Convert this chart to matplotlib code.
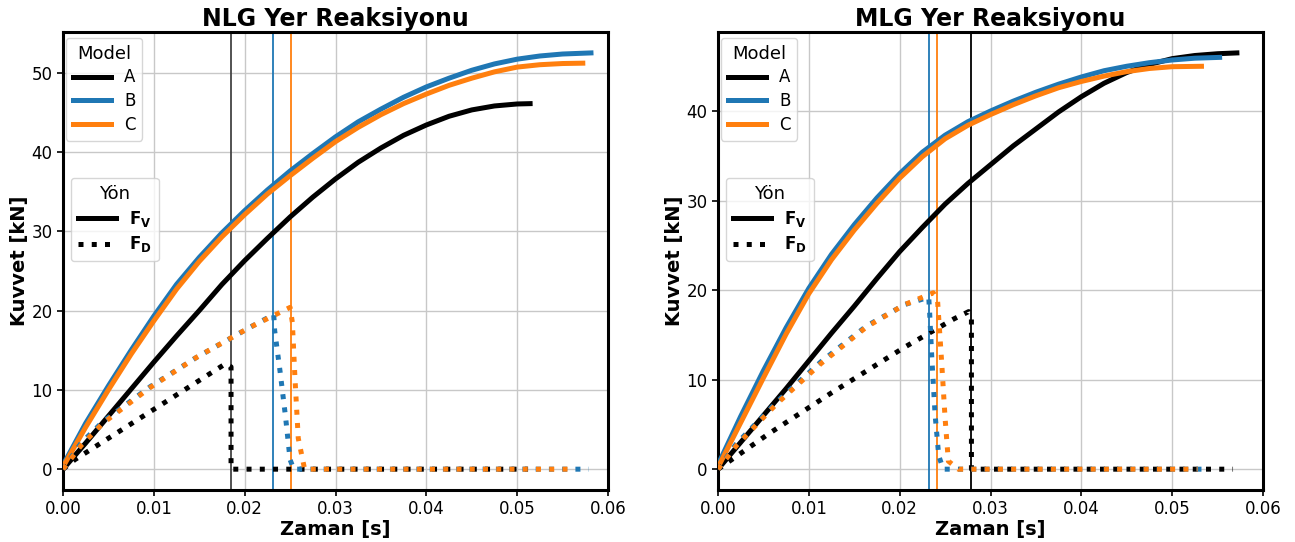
import matplotlib
matplotlib.use("Agg")
import matplotlib.pyplot as plt
from matplotlib.lines import Line2D
from matplotlib.ticker import FormatStrFormatter, MultipleLocator

C_A = "black"
C_B = "#1f77b4"
C_C = "#ff7f0e"

# ---------------- NLG (left) ----------------
nlg_t_A = [0, 0.0025, 0.005, 0.0075, 0.01, 0.0125, 0.015, 0.0175, 0.02, 0.0225, 0.025, 0.0275, 0.03,
           0.0325, 0.035, 0.0375, 0.04, 0.0425, 0.045, 0.0475, 0.05, 0.0517]
nlg_fv_A = [0, 3.3, 6.7, 10.1, 13.5, 16.8, 20.0, 23.3, 26.3, 29.1, 31.8, 34.3, 36.6,
            38.7, 40.5, 42.1, 43.4, 44.5, 45.3, 45.8, 46.05, 46.1]
nlg_t_B = [0, 0.0025, 0.005, 0.0075, 0.01, 0.0125, 0.015, 0.0175, 0.02, 0.0225, 0.025, 0.0275, 0.03,
           0.0325, 0.035, 0.0375, 0.04, 0.0425, 0.045, 0.0475, 0.05, 0.0525, 0.055, 0.0584]
nlg_fv_B = [0.5, 5.8, 10.5, 15.0, 19.3, 23.3, 26.7, 29.8, 32.6, 35.2, 37.6, 39.8, 41.9,
            43.8, 45.4, 46.9, 48.2, 49.3, 50.3, 51.1, 51.7, 52.1, 52.35, 52.5]
nlg_t_C = [0, 0.0025, 0.005, 0.0075, 0.01, 0.0125, 0.015, 0.0175, 0.02, 0.0225, 0.025, 0.0275, 0.03,
           0.0325, 0.035, 0.0375, 0.04, 0.0425, 0.045, 0.0475, 0.05, 0.0525, 0.055, 0.0575]
nlg_fv_C = [0.3, 5.3, 10.0, 14.5, 18.7, 22.7, 26.2, 29.3, 32.1, 34.7, 37.0, 39.2, 41.3,
            43.1, 44.7, 46.1, 47.3, 48.4, 49.3, 50.1, 50.7, 51.0, 51.15, 51.2]

nlg_td_A = [0, 0.0013, 0.0179, 0.0185, 0.0185, 0.0512]
nlg_fd_A = [0, 1.2, 13.3, 12.9, 0, 0]
nlg_td_B = [0, 0.002, 0.0044, 0.0096, 0.0147, 0.0206, 0.0232, 0.0233, 0.0239, 0.0245, 0.025, 0.0254, 0.0579]
nlg_fd_B = [0, 3.3, 6.0, 10.4, 14.1, 17.9, 19.5, 17.5, 12.3, 6.6, 1.2, 0, 0]
nlg_td_C = [0, 0.002, 0.0044, 0.0096, 0.0147, 0.0206, 0.025, 0.02525, 0.02554, 0.0259, 0.0266, 0.0564]
nlg_fd_C = [0, 3.0, 5.8, 10.3, 14.1, 17.9, 20.4, 18.5, 11.4, 3.9, 0, 0]

nlg_vlines = [0.0185, 0.0231, 0.0251]

# ---------------- MLG (right) ----------------
mlg_t_A = [0, 0.0025, 0.005, 0.0075, 0.01, 0.0125, 0.015, 0.0175, 0.02, 0.0225, 0.025, 0.0275, 0.03,
           0.0325, 0.035, 0.0375, 0.04, 0.0425, 0.045, 0.0475, 0.05, 0.0525, 0.055, 0.0574]
mlg_fv_A = [0, 3.0, 6.0, 9.0, 12.1, 15.2, 18.2, 21.3, 24.3, 27.0, 29.6, 31.9, 34.0,
            36.1, 38.0, 39.9, 41.6, 43.1, 44.3, 45.2, 45.85, 46.2, 46.4, 46.5]
mlg_t_B = [0, 0.0025, 0.005, 0.0075, 0.01, 0.0125, 0.015, 0.0175, 0.02, 0.0225, 0.025, 0.0275, 0.03,
           0.0325, 0.035, 0.0375, 0.04, 0.0425, 0.045, 0.0475, 0.05, 0.0525, 0.0555]
mlg_fv_B = [0.5, 5.9, 11.0, 15.8, 20.2, 24.0, 27.3, 30.3, 33.0, 35.4, 37.3, 38.8, 40.0,
            41.1, 42.1, 43.0, 43.8, 44.5, 45.0, 45.4, 45.7, 45.9, 46.0]
mlg_t_C = [0, 0.0025, 0.005, 0.0075, 0.01, 0.0125, 0.015, 0.0175, 0.02, 0.0225, 0.025, 0.0275, 0.03,
           0.0325, 0.035, 0.0375, 0.04, 0.0425, 0.045, 0.0475, 0.05, 0.0535]
mlg_fv_C = [0.2, 5.2, 10.2, 15.1, 19.6, 23.4, 26.7, 29.7, 32.5, 34.9, 36.9, 38.4, 39.6,
            40.7, 41.7, 42.6, 43.3, 43.9, 44.4, 44.75, 44.95, 45.0]

mlg_td_A = [0, 0.0055, 0.0123, 0.0205, 0.026, 0.0276, 0.0279, 0.0279, 0.0567]
mlg_fd_A = [0, 3.9, 8.4, 13.6, 16.8, 17.6, 16.8, 0, 0]
mlg_td_B = [0, 0.002, 0.00646, 0.01134, 0.01637, 0.02059, 0.0232, 0.0233, 0.02353, 0.0239, 0.0243, 0.0248, 0.0538]
mlg_fd_B = [0, 2.8, 7.5, 12.0, 16.0, 18.4, 19.2, 17.5, 12.6, 6.1, 1.5, 0, 0]
mlg_td_C = [0, 0.002, 0.00646, 0.01134, 0.01637, 0.02059, 0.0237, 0.02418, 0.02462, 0.025, 0.02536, 0.02646, 0.0528]
mlg_fd_C = [0, 2.6, 7.3, 11.8, 15.9, 18.4, 19.7, 18.7, 12.0, 5.7, 0.9, 0, 0]

mlg_vlines = [0.0232, 0.0241, 0.0279]

models = ["A", "B", "C"]
colors = [C_A, C_B, C_C]
x_ticks = [0.00, 0.01, 0.02, 0.03, 0.04, 0.05, 0.06]

panels = [
    ("NLG Yer Reaksiyonu",
     [(nlg_t_A, nlg_fv_A), (nlg_t_B, nlg_fv_B), (nlg_t_C, nlg_fv_C)],
     [(nlg_td_A, nlg_fd_A), (nlg_td_B, nlg_fd_B), (nlg_td_C, nlg_fd_C)],
     nlg_vlines, ["#444444", C_B, C_C]),
    ("MLG Yer Reaksiyonu",
     [(mlg_t_A, mlg_fv_A), (mlg_t_B, mlg_fv_B), (mlg_t_C, mlg_fv_C)],
     [(mlg_td_A, mlg_fd_A), (mlg_td_B, mlg_fd_B), (mlg_td_C, mlg_fd_C)],
     mlg_vlines, [C_B, C_C, C_A]),
]

fig = plt.figure(figsize=(12.95, 5.42), dpi=100)
ax1 = fig.add_axes([63/1295, 1-490/542, 545/1295, 458/542])
ax2 = fig.add_axes([718/1295, 1-490/542, 545/1295, 458/542])

LW = 3.6
for ax, (title, fv, fd, vl, vcols) in zip([ax1, ax2], panels):
    ax.grid(True, color="#c8c8c8", linewidth=1.0, zorder=0)
    for (t, v), c in zip(fv, colors):
        ax.plot(t, v, color=c, lw=LW, solid_capstyle="butt", solid_joinstyle="round", zorder=3)
    for (t, v), c in zip(fd, colors):
        ax.plot(t, v, color=c, lw=LW, linestyle=":", dash_capstyle="butt", zorder=3)
    for x, c in zip(vl, vcols):
        ax.axvline(x, color=c, lw=1.3, zorder=2)
    ax.set_xlim(0, 0.06)
    ax.set_xticks(x_ticks)
    ax.xaxis.set_major_formatter(FormatStrFormatter("%.2f"))
    ax.yaxis.set_major_locator(MultipleLocator(10))
    ax.tick_params(labelsize=12, width=1.2, length=4)
    for s in ax.spines.values():
        s.set_linewidth(2.2)
    ax.set_title(title, fontsize=17, fontweight="bold", pad=4)
    ax.set_xlabel("Zaman [s]", fontsize=14, fontweight="bold", labelpad=1)
    ax.set_ylabel("Kuvvet [kN]", fontsize=14, fontweight="bold", labelpad=2)

    h1 = [Line2D([], [], color=c, lw=LW) for c in colors]
    leg1 = ax.legend(h1, models, title="Model", loc="upper left",
                     bbox_to_anchor=(0.0055, 0.987), borderaxespad=0,
                     fontsize=12, title_fontsize=13, labelspacing=0.35,
                     handlelength=2.3)
    ax.add_artist(leg1)
    h2 = [Line2D([], [], color="black", lw=LW),
          Line2D([], [], color="black", lw=LW, linestyle=":", dash_capstyle="butt")]
    ax.legend(h2, [r"$\mathbf{F_V}$", r"$\mathbf{F_D}$"], title="Yön",
              loc="upper left", bbox_to_anchor=(0.0147, 0.681), borderaxespad=0,
              fontsize=12, title_fontsize=13, labelspacing=0.35,
              handlelength=2.3)

fig.savefig("out.png", dpi=100)
